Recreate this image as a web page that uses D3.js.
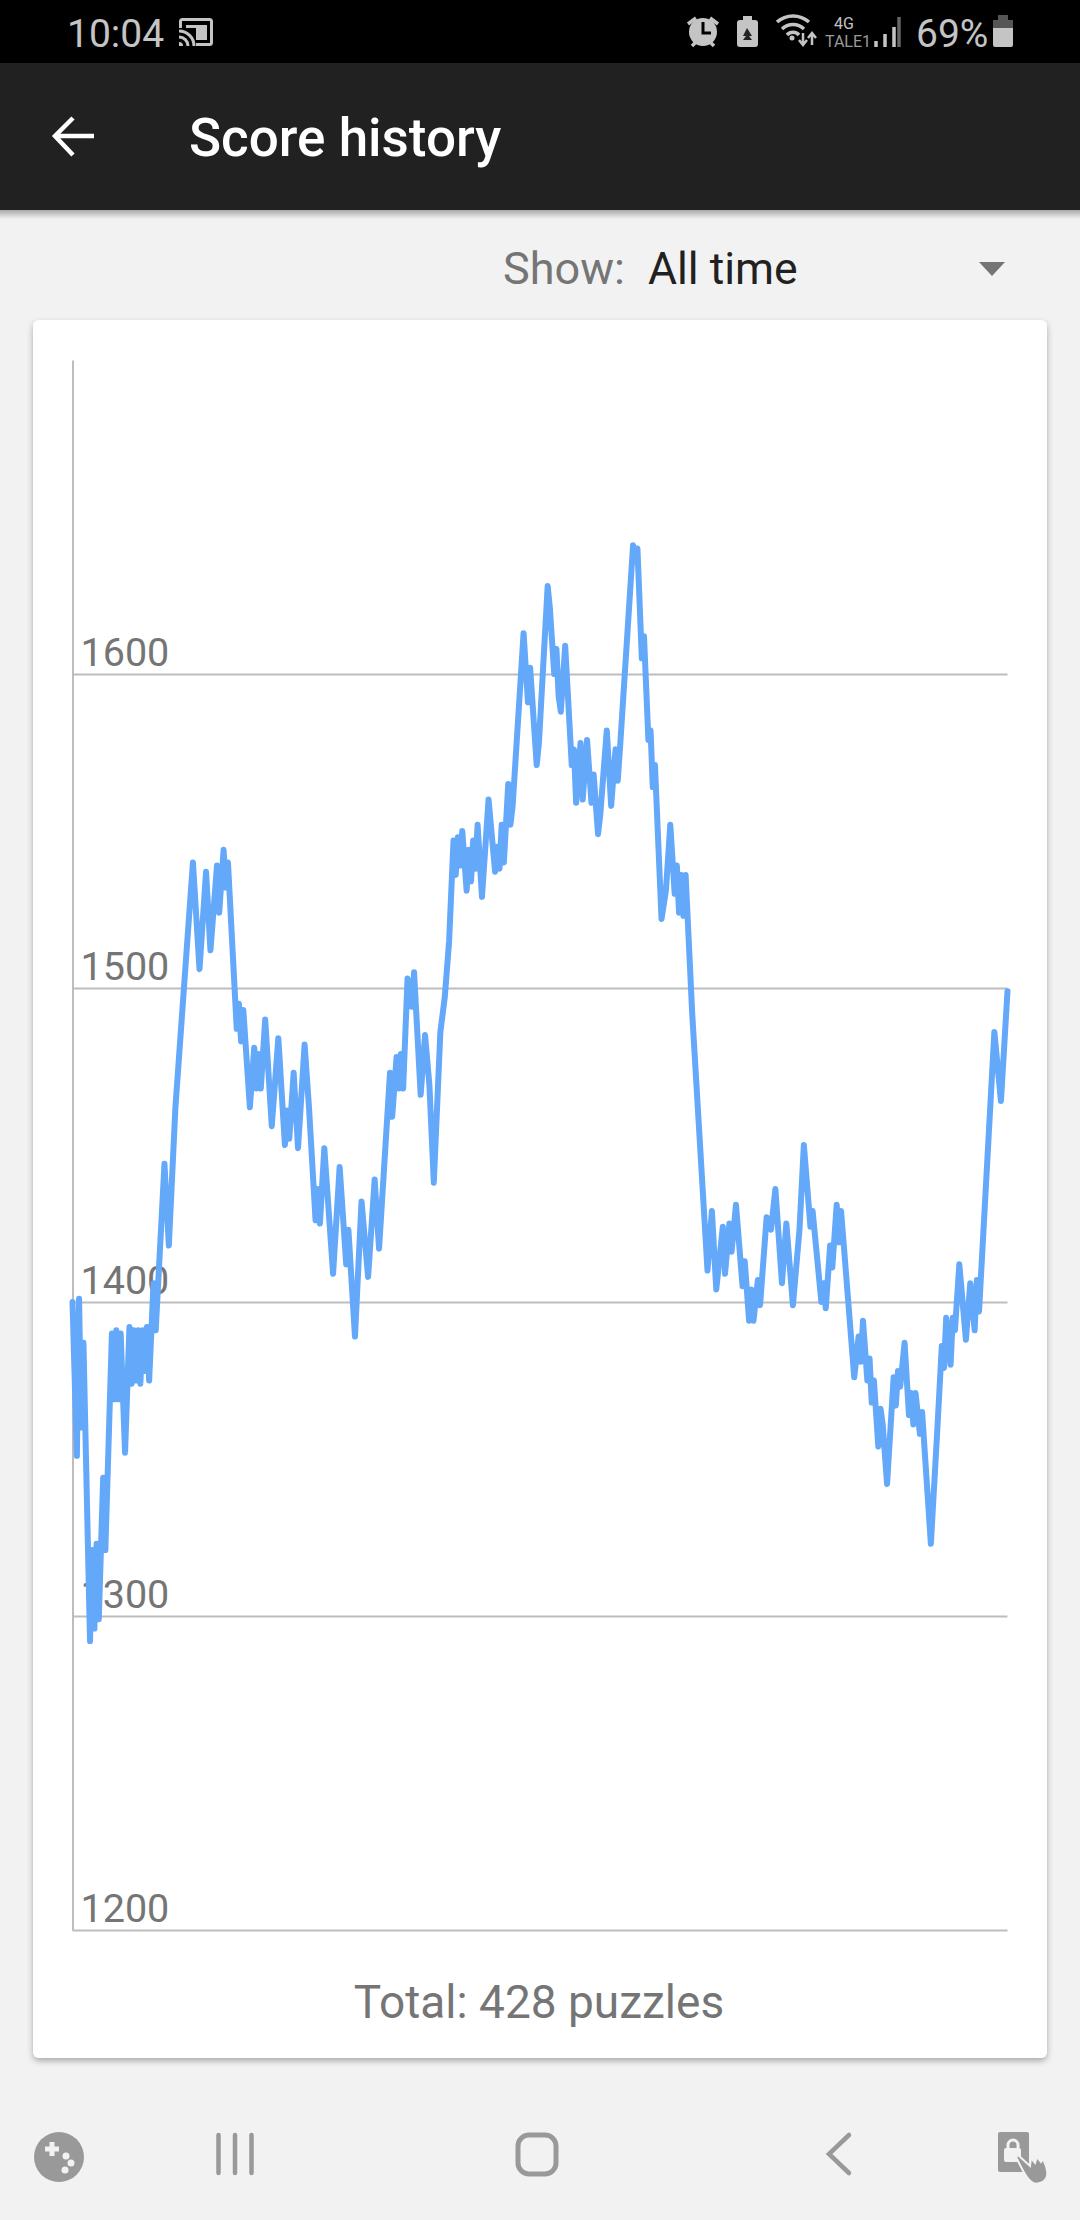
<!DOCTYPE html>
<html>
<head>
<meta charset="utf-8">
<script src="https://cdn.jsdelivr.net/npm/d3@7"></script>
<style>
    html, body { margin: 0; padding: 0; background: #f2f2f2; }
    svg { display: block; }
    text { font-family: Roboto, sans-serif; }
</style>
</head>
<body>
<div id="chart"></div>
<script>
// puzzle number of each turning point of the line, and the score there
var puzzles = [0,2,3,4,5,8,9,10,11,12,14,15,18,19,20,21,22,24,26,27,28,29,30,31,32,33,34,35,37,38,
    42,44,47,55,58,61,63,66,67,69,70,71,75,76,77,78,81,83,84,85,86,88,91,94,97,98,99,101,103,106,108,
    111,112,113,115,119,122,125,126,129,132,135,138,140,145,146,148,149,150,151,153,155,156,159,161,163,165,168,170,172,
    174,175,176,177,178,180,181,182,183,184,185,187,190,193,194,195,196,197,199,200,201,206,208,209,212,213,217,218,
    220,221,222,223,225,228,229,230,232,233,235,237,238,240,241,244,246,248,249,250,256,257,258,260,261,263,264,265,266,
    269,271,273,275,276,277,278,279,280,283,290,292,294,297,298,300,301,303,306,307,309,310,311,313,314,317,319,321,324,326,329,
    332,334,337,338,342,343,344,346,347,349,350,351,357,359,360,361,363,364,365,366,368,369,370,372,375,376,377,378,380,
    382,383,384,385,387,388,392,395,397,398,399,401,402,403,405,408,410,412,413,414,421,424,427];
var scores = [1400,1351,1401,1360,1387,1292,1321,1296,1323,1299,1344,1321,1390,1369,1391,1369,1390,1352,1392,1374,1391,1375,1391,1374,1391,1378,1392,1375,1406,1391,
    1444,1418,1462,1540,1506,1537,1512,1539,1524,1544,1532,1540,1487,1495,1483,1493,1462,1481,1468,1479,1468,1490,1456,1484,1450,1461,1452,1473,1449,1482,1462,
    1426,1436,1425,1449,1409,1443,1412,1423,1389,1432,1408,1439,1417,1473,1459,1478,1468,1479,1468,1503,1494,1505,1466,1485,1469,1438,1486,1497,1515,
    1547,1536,1548,1539,1550,1531,1544,1534,1547,1538,1552,1529,1560,1537,1545,1538,1552,1540,1565,1552,1558,1613,1591,1602,1571,1578,1628,1621,
    1600,1608,1593,1588,1609,1571,1576,1559,1578,1560,1579,1559,1568,1549,1555,1582,1558,1576,1566,1576,1641,1636,1640,1605,1612,1579,1582,1564,1571,
    1522,1531,1552,1530,1539,1524,1536,1523,1536,1492,1410,1429,1404,1424,1409,1425,1416,1431,1405,1413,1394,1404,1394,1407,1399,1427,1423,1436,1406,1425,1399,
    1423,1450,1424,1429,1400,1406,1398,1418,1411,1431,1419,1429,1376,1389,1381,1394,1375,1382,1368,1375,1354,1366,1361,1342,1376,1367,1378,1373,1387,
    1364,1371,1361,1371,1358,1365,1323,1360,1386,1379,1395,1380,1395,1391,1412,1388,1406,1391,1407,1397,1486,1464,1499];
var yTicks = [1200, 1300, 1400, 1500, 1600];

var data = puzzles.map(function (p, i) {
    return { puzzle: p, score: scores[i] };
});

var svg = d3.select("#chart").append("svg")
    .attr("width", 1080)
    .attr("height", 2220);

var defs = svg.append("defs");
var grad = defs.append("linearGradient")
    .attr("id", "headShadow")
    .attr("x1", 0).attr("x2", 0).attr("y1", 0).attr("y2", 1);
grad.append("stop").attr("offset", "0%").attr("stop-color", "#a8a8a8");
grad.append("stop").attr("offset", "100%").attr("stop-color", "#f2f2f2");

//=========================status bar and header=====================
svg.append("rect").attr("width", 1080).attr("height", 63).attr("fill", "#000");
svg.append("rect").attr("y", 63).attr("width", 1080).attr("height", 147).attr("fill", "#212121");
svg.append("rect").attr("y", 210).attr("width", 1080).attr("height", 9).attr("fill", "url(#headShadow)");

svg.append("text").attr("x", 67).attr("y", 47)
    .attr("fill", "#c4c4c4").style("font-size", "39px").text("10:04");

// cast icon
svg.append("rect").attr("x", 180.500).attr("y", 19.500).attr("width", 31).attr("height", 25).attr("rx", 2)
    .attr("fill", "none").attr("stroke", "#c4c4c4").attr("stroke-width", 3);
svg.append("rect").attr("x", 186).attr("y", 25).attr("width", 21).attr("height", 15).attr("fill", "#c4c4c4");
svg.append("rect").attr("x", 176).attr("y", 28).attr("width", 20).attr("height", 20).attr("fill", "#000");
svg.append("path")
    .attr("d", "M179 31a15 15 0 0 1 15 15M179 37a9 9 0 0 1 9 9")
    .attr("fill", "none").attr("stroke", "#c4c4c4").attr("stroke-width", 3);
svg.append("path").attr("d", "M179 42a4 4 0 0 1 4 4h-4z").attr("fill", "#c4c4c4");

// alarm
svg.append("circle").attr("cx", 703).attr("cy", 32).attr("r", 14).attr("fill", "#c4c4c4");
svg.append("path").attr("d", "M703 22v11h8").attr("fill", "none").attr("stroke", "#000").attr("stroke-width", 3);
svg.append("path").attr("d", "M688 24l8-6M718 24l-8-6M692 46l4-4M714 46l-4-4")
    .attr("stroke", "#c4c4c4").attr("stroke-width", 3.5).attr("fill", "none");

// battery saver
svg.append("rect").attr("x", 737).attr("y", 20).attr("width", 21).attr("height", 27).attr("rx", 3).attr("fill", "#c4c4c4");
svg.append("rect").attr("x", 743).attr("y", 16).attr("width", 9).attr("height", 5).attr("fill", "#c4c4c4");
svg.append("path").attr("d", "M747 28l5 8h-3l3 4h-9l3-4h-3z").attr("fill", "#222");

// wifi
svg.append("path")
    .attr("d", "M777 22a24 24 0 0 1 32 0M782 29a16 16 0 0 1 22 0M787 35a8 8 0 0 1 12 0")
    .attr("fill", "none").attr("stroke", "#c4c4c4").attr("stroke-width", 3.5);
svg.append("circle").attr("cx", 792).attr("cy", 38).attr("r", 2.5).attr("fill", "#c4c4c4");
svg.append("path").attr("d", "M803 33v11m-4-4l4 5 4-5M812 45v-11m-4 4l4-5 4 5")
    .attr("fill", "none").attr("stroke", "#c4c4c4").attr("stroke-width", 2.5);

svg.append("text").attr("x", 834).attr("y", 29).attr("fill", "#c4c4c4")
    .style("font-size", "16px").text("4G");
svg.append("text").attr("x", 825).attr("y", 47).attr("fill", "#9a9a9a")
    .style("font-size", "16px").text("TALE1");

// signal bars
svg.append("path").attr("d", "M876 41v6M885 34v13M894 27v20").attr("stroke", "#c4c4c4").attr("stroke-width", 3.5);
svg.append("path").attr("d", "M899 17v30").attr("stroke", "#666").attr("stroke-width", 3.5);

svg.append("text").attr("x", 916).attr("y", 47)
    .attr("fill", "#c4c4c4").style("font-size", "39px").text("69%");

// battery
svg.append("rect").attr("x", 993).attr("y", 20).attr("width", 20).attr("height", 27).attr("rx", 2).attr("fill", "#c4c4c4");
svg.append("rect").attr("x", 993).attr("y", 20).attr("width", 20).attr("height", 8).attr("fill", "#555");
svg.append("rect").attr("x", 998).attr("y", 15).attr("width", 10).attr("height", 5).attr("fill", "#555");

// back arrow and title
svg.append("path")
    .attr("d", "M94 136H57M73 118L55 136L73 155")
    .attr("fill", "none").attr("stroke", "#fff").attr("stroke-width", 4.5);
svg.append("text").attr("x", 189).attr("y", 156)
    .attr("fill", "#fff").style("font-size", "53px").style("font-weight", 500).text("Score history");

//=========================dropdown=====================
svg.append("text").attr("x", 503).attr("y", 284)
    .attr("fill", "#757575").style("font-size", "45px").text("Show:");
svg.append("text").attr("x", 648).attr("y", 284)
    .attr("fill", "#212121").style("font-size", "44.500px").text("All time");
svg.append("path").attr("d", "M979 262h26l-13 14z").attr("fill", "#757575");

//=========================card=====================
defs.append("filter").attr("id", "cardShadow")
    .attr("x", "-5%").attr("y", "-5%").attr("width", "110%").attr("height", "110%")
    .append("feDropShadow")
    .attr("dx", 0).attr("dy", 3).attr("stdDeviation", 3)
    .attr("flood-color", "#000").attr("flood-opacity", 0.3);

svg.append("rect")
    .attr("x", 33).attr("y", 320)
    .attr("width", 1014).attr("height", 1738)
    .attr("rx", 6)
    .attr("fill", "#fff")
    .attr("filter", "url(#cardShadow)");

//=========================chart=====================
var margin = { top: 360, left: 72.5 };
var width = 935;
var height = 1570;

var g = svg.append("g")
    .attr("transform", "translate(" + margin.left + "," + margin.top + ")");

var x = d3.scaleLinear()
    .domain([0, 427])
    .range([0, width]);

var y = d3.scaleLinear()
    .domain([1200, 1700])
    .range([height, 0]);

//y-axis with the labels sitting inside the plot, above each grid line
var yAxisCall = d3.axisLeft(y)
    .tickValues(yTicks)
    .tickSizeInner(-width)
    .tickSizeOuter(0)
    .tickFormat(d3.format("d"));

var yAxis = g.append("g")
    .attr("class", "y-axis")
    .call(yAxisCall);

yAxis.select(".domain")
    .attr("stroke", "#bdbdbd")
    .attr("stroke-width", 2);
yAxis.selectAll(".tick line")
    .attr("stroke", "#bdbdbd")
    .attr("stroke-width", 2);
yAxis.selectAll(".tick text")
    .attr("x", 8)
    .attr("y", -8.500)
    .attr("dy", 0)
    .attr("text-anchor", "start")
    .attr("fill", "#757575")
    .style("font-family", "Roboto, sans-serif")
    .style("font-size", "39.500px");

var line = d3.line()
    .x(function (d) { return x(d.puzzle); })
    .y(function (d) { return y(d.score); });

g.append("path")
    .datum(data)
    .attr("fill", "none")
    .attr("stroke", "#64a8fa")
    .attr("stroke-width", 6)
    .attr("stroke-linejoin", "round")
    .attr("stroke-linecap", "round")
    .attr("d", line);

svg.append("text")
    .attr("x", 539).attr("y", 2018)
    .attr("text-anchor", "middle")
    .attr("fill", "#757575")
    .style("font-size", "46px")
    .text("Total: 428 puzzles");

//=========================nav bar=====================
svg.append("circle").attr("cx", 59).attr("cy", 2157).attr("r", 25).attr("fill", "#999");
svg.append("path").attr("d", "M52 2142v14M45 2149h14").attr("stroke", "#f2f2f2").attr("stroke-width", 5);
svg.selectAll(".dot").data([[66, 2156], [71, 2163], [65, 2170]]).enter().append("circle")
    .attr("cx", function (d) { return d[0]; })
    .attr("cy", function (d) { return d[1]; })
    .attr("r", 3.5).attr("fill", "#f2f2f2");

svg.append("path").attr("d", "M218.500 2135v38M235 2135v38M251.500 2135v38")
    .attr("stroke", "#999").attr("stroke-width", 4.5).attr("stroke-linecap", "round");
svg.append("rect").attr("x", 518).attr("y", 2135)
    .attr("width", 38).attr("height", 39).attr("rx", 11)
    .attr("fill", "none").attr("stroke", "#999").attr("stroke-width", 5);
svg.append("path").attr("d", "M849 2135L829 2154L849 2173")
    .attr("fill", "none").attr("stroke", "#999").attr("stroke-width", 4.5).attr("stroke-linecap", "round");

// lock and hand
svg.append("rect").attr("x", 998).attr("y", 2132).attr("width", 31).attr("height", 40).attr("rx", 2).attr("fill", "#999");
svg.append("rect").attr("x", 1004).attr("y", 2148).attr("width", 17).attr("height", 14).attr("rx", 2).attr("fill", "#f2f2f2");
svg.append("path").attr("d", "M1008 2149v-4a5 5 0 0 1 10 0v4").attr("fill", "none").attr("stroke", "#f2f2f2").attr("stroke-width", 3);
svg.append("path").attr("d", "M1018 2155l12 11 1-8 4 5 2-6 4 5 2-3c3 6 5 12 4 17c-1 6-9 9-14 7c-6-3-11-14-17-26z")
    .attr("fill", "#999").attr("stroke", "#f2f2f2").attr("stroke-width", 2);
</script>
</body>
</html>
